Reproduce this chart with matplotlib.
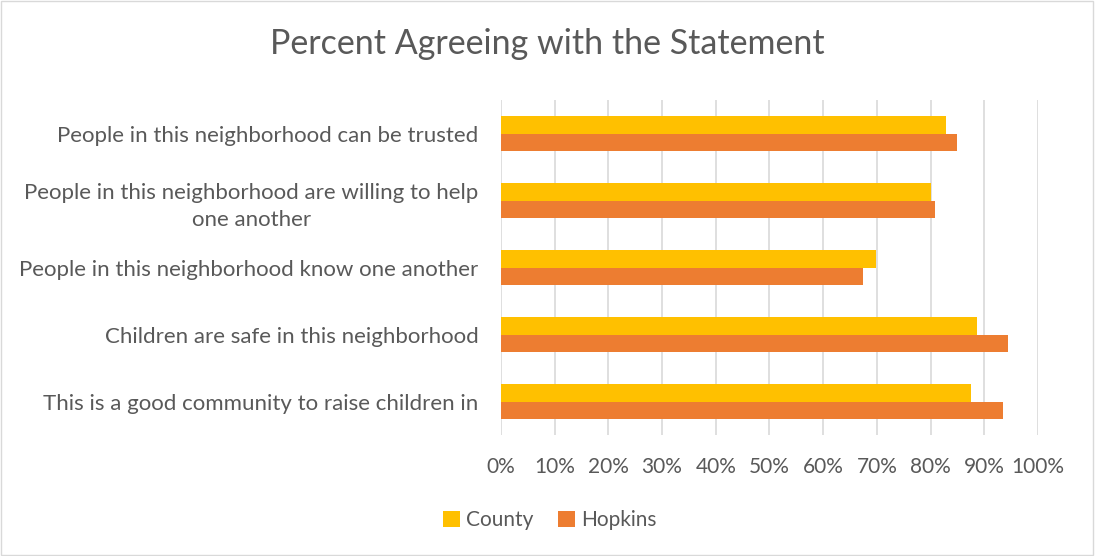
import numpy as np
import matplotlib.pyplot as plt
from matplotlib.patches import Rectangle

plt.rcParams['font.family'] = ['Lato', 'DejaVu Sans']

categories = ['People in this neighborhood can be trusted',
              'People in this neighborhood are willing to help\none another',
              'People in this neighborhood know one another',
              'Children are safe in this neighborhood',
              'This is a good community to raise children in']
county = [82.9, 80.1, 69.8, 88.6, 87.6]
hopkins = [85.0, 80.9, 67.4, 94.5, 93.5]
ticks = np.arange(0, 101, 10)
tick_labels = ['%d%%' % t for t in ticks]

grey = '#595959'
fig = plt.figure(figsize=(10.95, 5.56), dpi=100)
ax = fig.add_axes([0.4575, 0.2176, 0.4904, 0.6024])

y = np.arange(len(categories))
h = 0.255
ax.barh(y - h / 2, county, height=h, color='#FFC000', label='County', zorder=3)
ax.barh(y + h / 2, hopkins, height=h, color='#ED7D31', label='Hopkins', zorder=3)

ax.set_xlim(0, 100)
ax.set_ylim(len(categories) - 0.5, -0.5)
ax.set_xticks(ticks)
ax.set_xticklabels(tick_labels, color=grey, fontsize=15)
ax.set_yticks(y)
ax.set_yticklabels(categories, color=grey, fontsize=16, ha='right')
for lab in ax.get_yticklabels():
    lab.set_multialignment('center')
    lab.set_linespacing(1.45)
ax.tick_params(length=0, pad=16, axis='y')
ax.tick_params(length=0, pad=16, axis='x')
ax.grid(axis='x', color='#d9d9d9', linewidth=1.2, zorder=0)
for s in ax.spines.values():
    s.set_visible(False)

fig.suptitle('Percent Agreeing with the Statement', x=0.5, y=0.95,
             color=grey, fontsize=24.5)
fig.legend(loc='center', bbox_to_anchor=(0.502, 0.065), ncol=2, frameon=False,
           fontsize=15, labelcolor=grey, handlelength=0.8, handleheight=0.8,
           handletextpad=0.3, columnspacing=1.2)
fig.patches.append(Rectangle((0.001, 0.002), 0.997, 0.996, transform=fig.transFigure,
                             fill=False, edgecolor='#d9d9d9', linewidth=1))

fig.savefig('out.png', dpi=100)
